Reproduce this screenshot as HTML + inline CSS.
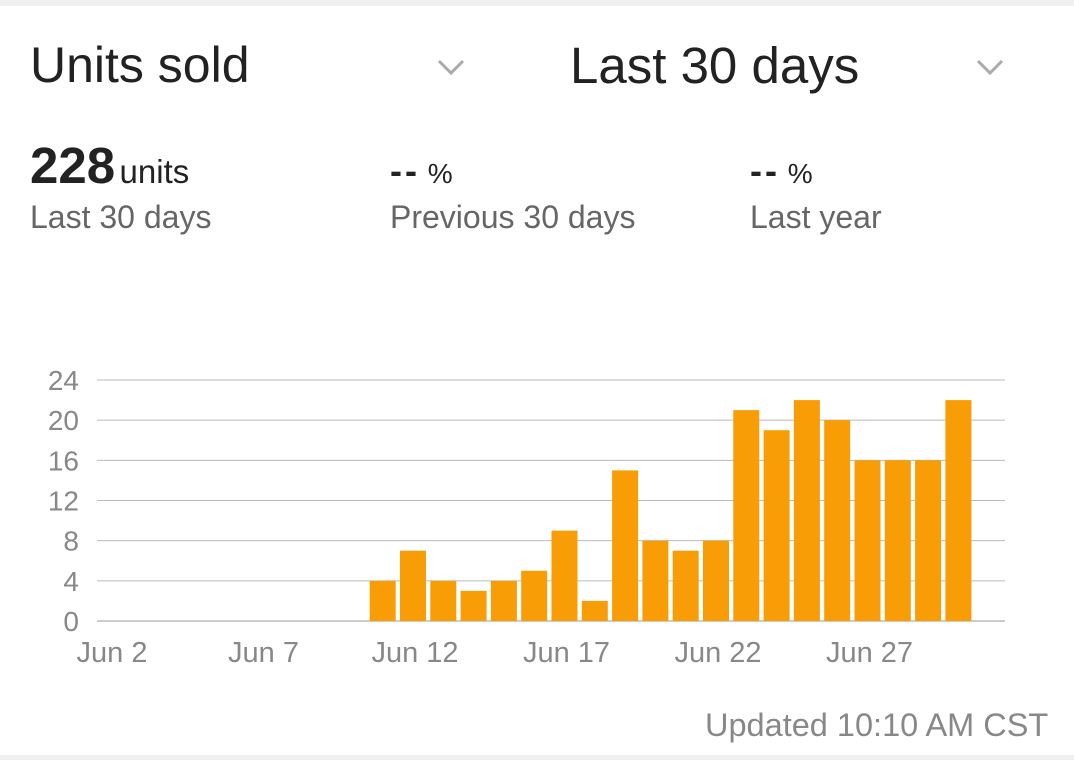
<!DOCTYPE html>
<html><head><meta charset="utf-8"><style>
body{margin:0;width:1074px;height:760px;background:#fff;font-family:"Liberation Sans",sans-serif;overflow:hidden;position:relative}
.t{position:absolute;white-space:nowrap}
</style></head><body>
<div style="position:absolute;left:0;top:0;width:1074px;height:6px;background:#f0f0f0"></div>
<div style="position:absolute;left:0;top:755px;width:1074px;height:5px;background:#f0f0f0"></div>
<div class="t" style="left:30px;top:36px;font-size:50px;color:#222">Units sold</div>
<svg style="position:absolute;left:436px;top:58px" width="30" height="18"><polyline points="3,3 15,15 27,3" fill="none" stroke="#aaa" stroke-width="3"/></svg>
<div class="t" style="left:570px;top:36px;font-size:51px;color:#222">Last 30 days</div>
<svg style="position:absolute;left:975px;top:58px" width="30" height="18"><polyline points="3,3 15,15 27,3" fill="none" stroke="#aaa" stroke-width="3"/></svg>
<div class="t" style="left:30px;top:136px;color:#222"><b style="font-size:51px">228</b>&nbsp;<span style="font-size:33px">units</span></div>
<div class="t" style="left:30px;top:199px;font-size:32px;color:#666">Last 30 days</div>
<div class="t" style="left:390px;top:150px;font-size:28px;color:#222"><b style="font-size:36px;letter-spacing:3px">--</b> %</div>
<div class="t" style="left:390px;top:199px;font-size:32px;color:#666">Previous 30 days</div>
<div class="t" style="left:750px;top:150px;font-size:28px;color:#222"><b style="font-size:36px;letter-spacing:3px">--</b> %</div>
<div class="t" style="left:750px;top:199px;font-size:32px;color:#666">Last year</div>
<svg id="chart" style="position:absolute;left:0;top:0" width="1074" height="760"></svg>
<div class="t" style="left:705px;top:707px;font-size:32.5px;color:#888">Updated 10:10 AM CST</div>
<script>
const days=[1,2,3,4,5,6,7,8,9,10,11,12,13,14,15,16,17,18,19,20,21,22,23,24,25,26,27,28,29,30];
const units=[0,0,0,0,0,0,0,0,0,0,4,7,4,3,4,5,9,2,15,8,7,8,21,19,22,20,16,16,16,22];
const yTicks=[0,4,8,12,16,20,24];
const xTickDays=[2,7,12,17,22,27];
const xTickLabels=["Jun 2","Jun 7","Jun 12","Jun 17","Jun 22","Jun 27"];
const svg=document.getElementById('chart');const NS='http://www.w3.org/2000/svg';
const y0=621,yTop=380,yMax=24;
const y=v=>y0-(v/yMax)*(y0-yTop);
const x=d=>110+(d-2)*30.3;
function mk(t,a){const e=document.createElementNS(NS,t);for(const k in a)e.setAttribute(k,a[k]);svg.appendChild(e);return e;}
yTicks.forEach(v=>{
 const l=mk('line',{x1:97,x2:1005,y1:y(v),y2:y(v),stroke:v===0?'#999':'#bbb','stroke-width':1});
 
 
 const t=mk('text',{x:79,y:y(v)+10,'text-anchor':'end','font-size':28,fill:'#888','font-family':'Liberation Sans'});
 t.textContent=v;
 
 
});
xTickDays.forEach((d,i)=>{
 const t=mk('text',{x:x(d)+2,y:662,'text-anchor':'middle','font-size':29,fill:'#888','font-family':'Liberation Sans'});
 t.textContent=xTickLabels[i];
 
 
});
days.forEach((d,i)=>{
 if(units[i]<=0)return;
 const r=mk('rect',{x:x(d)-13,y:y(units[i]),width:26,height:y0-y(units[i]),fill:'#f99d06'});
 
 
});
</script>
</body></html>
